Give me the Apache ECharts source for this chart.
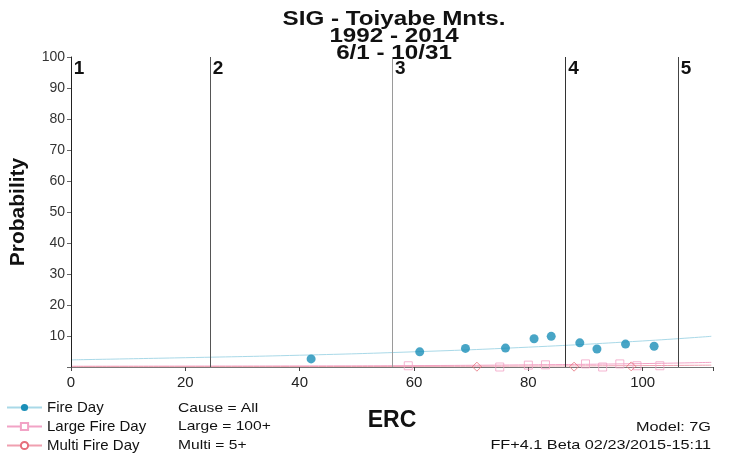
<!DOCTYPE html>
<html><head><meta charset="utf-8">
<script src="https://cdn.jsdelivr.net/npm/echarts@6/dist/echarts.min.js"></script>
<style>html,body{margin:0;padding:0;background:#fff}#c{width:748px;height:453px}</style>
</head><body><div id="c"></div>
<script>
// Data
const fireDayErc = [42, 61, 69, 76, 81, 84, 89, 92, 97, 102];
const fireDayProb = [2.6, 4.9, 6.0, 6.1, 9.1, 9.9, 7.8, 5.8, 7.4, 6.7];
const largeErc = [59, 75, 80, 83, 90, 93, 96, 99, 103];
const largeProb = [0.4, 0.0, 0.6, 0.7, 1.0, 0.0, 1.0, 0.4, 0.4];
const multiErc = [71, 88, 98];
const multiProb = [0.1, 0.1, 0.2];
const trendErc = [0, 20, 40, 60, 80, 100, 112];
const fireTrend = [2.3, 3.0, 3.8, 4.9, 6.4, 8.4, 9.9];
const largeTrend = [0.25, 0.3, 0.35, 0.45, 0.7, 1.1, 1.5];
const multiTrend = [0.1, 0.12, 0.15, 0.2, 0.3, 0.45, 0.6];
const classBreaks = [0, 24.3, 56.2, 86.5, 106.2];
const classLabels = ['1', '2', '3', '4', '5'];
const classColors = ['#222', '#555', '#9a9a9a', '#333', '#444'];
const xTicks = [0, 20, 40, 60, 80, 100];
const yTicks = [10, 20, 30, 40, 50, 60, 70, 80, 90, 100];
const titleLines = ['SIG - Toiyabe Mnts.', '1992 - 2014', '6/1 - 10/31'];
const legendNotes = ['Cause = All', 'Large = 100+', 'Multi = 5+'];
const footNotes = ['Model: 7G', 'FF+4.1 Beta 02/23/2015-15:11'];

const pair = (xs, ys) => xs.map((x, i) => [x, ys[i]]);
const FONT = 'Liberation Sans, Arial, sans-serif';
const chart = echarts.init(document.getElementById('c'));

const graphics = [];
titleLines.forEach((t, i) => graphics.push({
  type: 'text', x: 394, y: 29.5 + i * 17, scaleX: 1.21, z: 10,
  style: { text: t, font: 'bold 20px ' + FONT, fill: '#111', align: 'center', verticalAlign: 'bottom' }
}));
legendNotes.forEach((t, i) => graphics.push({
  type: 'text', x: 178, y: 408 + i * 18.5, scaleX: 1.2,
  style: { text: t, font: '13px ' + FONT, fill: '#111', align: 'left', verticalAlign: 'middle' }
}));
footNotes.forEach((t, i) => graphics.push({
  type: 'text', x: 711, y: 427.5 + i * 18, scaleX: 1.25,
  style: { text: t, font: '13px ' + FONT, fill: '#111', align: 'right', verticalAlign: 'middle' }
}));

chart.setOption({
  animation: false,
  backgroundColor: '#fff',
  grid: { left: 70, right: 35, top: 57, bottom: 86 },
  legend: {
    orient: 'vertical', left: 6, top: 399, height: 80, padding: 0, itemGap: 2, itemWidth: 35, itemHeight: 9,
    textStyle: { fontFamily: FONT, fontSize: 15, color: '#111', lineHeight: 17 },
    data: ['Fire Day', 'Large Fire Day', 'Multi Fire Day']
  },
  xAxis: {
    type: 'value', min: 0, max: 112.3, interval: 20,
    name: 'ERC', nameLocation: 'middle', nameGap: 42,
    nameTextStyle: { fontFamily: FONT, fontSize: 23, fontWeight: 'bold', color: '#111' },
    axisLine: { lineStyle: { color: '#777', width: 1 } },
    axisTick: { show: true, length: 4, lineStyle: { color: '#444' } },
    splitLine: { show: false },
    axisLabel: { fontFamily: FONT, fontSize: 15, color: '#222', margin: 8,
      formatter: v => xTicks.includes(v) ? String(v) : '' }
  },
  yAxis: {
    type: 'value', min: 0, max: 100, interval: 10,
    name: 'Probability', nameLocation: 'middle', nameGap: 42, nameRotate: 90,
    nameTextStyle: { fontFamily: FONT, fontSize: 21, fontWeight: 'bold', color: '#111' },
    axisLine: { show: true, lineStyle: { color: '#111', width: 1 } },
    axisTick: { show: true, length: 4, lineStyle: { color: '#666' } },
    splitLine: { show: false },
    axisLabel: { fontFamily: FONT, fontSize: 14, color: '#333', margin: 6,
      formatter: v => yTicks.includes(v) ? String(v) : '' }
  },
  series: [
    { name: 'Fire Day', type: 'line', data: pair(trendErc, fireTrend), smooth: true,
      symbol: 'circle', symbolSize: 7, showSymbol: false,
      itemStyle: { color: '#1a8fb8' }, lineStyle: { color: '#a9d9e8', width: 1 }, z: 2,
      markLine: {
        silent: true, symbol: 'none', animation: false,
        lineStyle: { width: 1, type: 'solid' },
        label: { show: true, position: 'end', offset: [8, 26], fontFamily: FONT,
          fontSize: 19, fontWeight: 'bold', color: '#111' },
        data: classBreaks.map((b, i) => ({ xAxis: b, lineStyle: { color: classColors[i] },
          label: { formatter: classLabels[i] } }))
      }
    },
    { name: 'Large Fire Day', type: 'line', data: pair(trendErc, largeTrend), smooth: true,
      symbol: 'rect', symbolSize: 8, showSymbol: false,
      itemStyle: { color: '#fff', borderColor: '#f2a3c6', borderWidth: 1 },
      lineStyle: { color: '#f2a3c6', width: 1 }, z: 2 },
    { name: 'Multi Fire Day', type: 'line', data: pair(trendErc, multiTrend), smooth: true,
      symbol: 'circle', symbolSize: 6, showSymbol: false,
      itemStyle: { color: '#fff', borderColor: '#e6707c', borderWidth: 1 },
      lineStyle: { color: '#f0a0b0', width: 1 }, z: 2 },
    { name: 'Fire Day', type: 'scatter', data: pair(fireDayErc, fireDayProb),
      symbol: 'circle', symbolSize: 9, itemStyle: { color: '#1a8fb8' }, z: 5 },
    { name: 'Large Fire Day', type: 'scatter', data: pair(largeErc, largeProb),
      symbol: 'rect', symbolSize: 8,
      itemStyle: { color: 'rgba(255,255,255,0)', borderColor: '#f2a3c6', borderWidth: 1 }, z: 4 },
    { name: 'Multi Fire Day', type: 'scatter', data: pair(multiErc, multiProb),
      symbol: 'diamond', symbolSize: 9,
      itemStyle: { color: 'rgba(255,255,255,0)', borderColor: '#e6707c', borderWidth: 1 }, z: 4 }
  ],
  graphic: graphics
});
</script></body></html>
